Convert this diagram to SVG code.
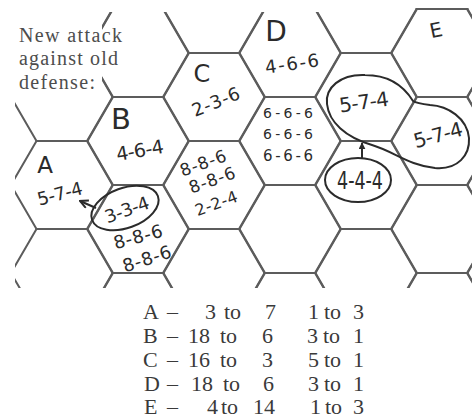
<svg xmlns="http://www.w3.org/2000/svg" width="472" height="418" viewBox="0 0 472 418">
<style>
.grid{fill:none;stroke:#5c5c5c;stroke-width:2}
.hand{font-family:"DejaVu Sans",sans-serif;fill:#2b2b2b;text-anchor:middle}
.ink{fill:none;stroke:#2b2b2b;stroke-width:2}
.print{font-family:"Liberation Serif",serif;fill:#4d4d4d;font-size:20px}
.tbl{font-family:"Liberation Serif",serif;fill:#3a3a3a;font-size:22px}
</style>
<defs>
<polygon id="hex" points="-51,0 -25.5,-44 25.5,-44 51,0 25.5,44 -25.5,44"/>
<clipPath id="mapclip"><polygon points="102,12 400,12 400,8 472,8 472,288 15,288 15,100 102,100"/></clipPath>
<marker id="openhead" viewBox="0 0 10 10" refX="9" refY="5" markerWidth="5" markerHeight="5" orient="auto"><path d="M1,1 L9,5 L1,9" fill="none" stroke="#2b2b2b" stroke-width="2"/></marker>
<marker id="fillhead" viewBox="0 0 10 10" refX="9" refY="5" markerWidth="3.5" markerHeight="3.5" orient="auto"><path d="M0,0 L10,5 L0,10 z" fill="#2b2b2b"/></marker>
</defs>
<rect width="472" height="418" fill="#fff"/>
<g id="grid" class="grid" clip-path="url(#mapclip)">
<use href="#hex" x="62" y="9"/><use href="#hex" x="62" y="97"/><use href="#hex" x="62" y="185"/><use href="#hex" x="62" y="273"/>
<use href="#hex" x="138" y="53"/><use href="#hex" x="138" y="141"/><use href="#hex" x="138" y="229"/><use href="#hex" x="138" y="317"/>
<use href="#hex" x="214" y="9"/><use href="#hex" x="214" y="97"/><use href="#hex" x="214" y="185"/><use href="#hex" x="214" y="273"/>
<use href="#hex" x="290" y="53"/><use href="#hex" x="290" y="141"/><use href="#hex" x="290" y="229"/><use href="#hex" x="290" y="317"/>
<use href="#hex" x="366" y="9"/><use href="#hex" x="366" y="97"/><use href="#hex" x="366" y="185"/><use href="#hex" x="366" y="273"/>
<use href="#hex" x="442" y="53"/><use href="#hex" x="442" y="141"/><use href="#hex" x="442" y="229"/><use href="#hex" x="442" y="317"/>
<use href="#hex" x="518" y="9"/><use href="#hex" x="518" y="97"/><use href="#hex" x="518" y="185"/><use href="#hex" x="518" y="273"/>
</g>
<g id="caption" class="print">
<text x="19" y="42" textLength="103" lengthAdjust="spacing">New attack</text>
<text x="19" y="65" textLength="99" lengthAdjust="spacing">against old</text>
<text x="19" y="89" textLength="76" lengthAdjust="spacing">defense:</text>
</g>
<g id="hex-A" class="hand">
<text x="45" y="173" font-size="23">A</text>
<text x="60" y="200" font-size="18" textLength="46" transform="rotate(-15 60 194)">5-7-4</text>
</g>
<g id="hex-B" class="hand">
<text x="121" y="129" font-size="29">B</text>
<text x="140" y="157" font-size="19" textLength="48" transform="rotate(-10 140 151)">4-6-4</text>
</g>
<g id="hex-B2" class="hand">
<ellipse class="ink" cx="125" cy="208" rx="35" ry="20" transform="rotate(-20 125 208)"/>
<text x="127" y="216" font-size="18" textLength="46" transform="rotate(-20 127 210)">3-3-4</text>
<text x="138" y="243" font-size="18" textLength="50" transform="rotate(-15 138 237)">8-8-6</text>
<text x="147" y="265" font-size="18" textLength="50" transform="rotate(-18 147 259)">8-8-6</text>
</g>
<g id="hex-C" class="hand">
<text x="202" y="82" font-size="24">C</text>
<text x="216" y="108" font-size="18" textLength="50" transform="rotate(-22 216 102)">2-3-6</text>
</g>
<g id="hex-C2" class="hand">
<text x="203" y="169" font-size="17" textLength="48" transform="rotate(-20 203 163)">8-8-6</text>
<text x="212" y="186" font-size="17" textLength="48" transform="rotate(-20 212 180)">8-8-6</text>
<text x="216" y="209" font-size="16" textLength="44" transform="rotate(-20 216 203)">2-2-4</text>
</g>
<g id="hex-D" class="hand">
<text x="276" y="41" font-size="28">D</text>
<text x="292" y="70" font-size="18" textLength="54" transform="rotate(-8 292 64)">4-6-6</text>
</g>
<g id="hex-D2" class="hand">
<text x="288" y="118" font-size="14" textLength="50">6-6-6</text>
<text x="288" y="139" font-size="14" textLength="50">6-6-6</text>
<text x="288" y="161" font-size="15" textLength="50">6-6-6</text>
</g>
<g id="hex-E" class="hand">
<text x="436" y="37" font-size="20" transform="rotate(-12 436 30)">E</text>
<path class="ink" d="M413,101 C405,88 390,75 365,75 C340,74 325,88 327,104 C329,122 345,137 372,145 C395,152 408,165 435,168 C458,170 470,155 469,138 C467,118 448,106 430,105 C422,104 416,103 413,101 Z"/>
<text x="364" y="109" font-size="20" textLength="50" transform="rotate(-8 364 102)">5-7-4</text>
<text x="438" y="142" font-size="20" textLength="50" transform="rotate(-15 438 135)">5-7-4</text>
</g>
<g id="hex-E2" class="hand">
<ellipse class="ink" cx="358" cy="180" rx="33" ry="22"/>
<text x="360" y="189" font-size="25" textLength="46" lengthAdjust="spacingAndGlyphs">4-4-4</text>
</g>
<g id="connectors" class="ink">
<path d="M96,208 L80,201" marker-end="url(#openhead)"/>
<path d="M362,158 L362,143" marker-end="url(#fillhead)"/>
</g>
<g id="table" class="tbl">
<text y="319"><tspan x="143">A</tspan><tspan x="167">–</tspan><tspan x="205">3</tspan><tspan x="224">to</tspan><tspan x="265">7</tspan><tspan x="308">1</tspan><tspan x="324">to</tspan><tspan x="353">3</tspan></text>
<text y="343"><tspan x="143">B</tspan><tspan x="167">–</tspan><tspan x="188">18</tspan><tspan x="220">to</tspan><tspan x="262">6</tspan><tspan x="307">3</tspan><tspan x="323">to</tspan><tspan x="353">1</tspan></text>
<text y="367"><tspan x="143">C</tspan><tspan x="167">–</tspan><tspan x="188">16</tspan><tspan x="220">to</tspan><tspan x="262">3</tspan><tspan x="308">5</tspan><tspan x="324">to</tspan><tspan x="353">1</tspan></text>
<text y="391"><tspan x="144">D</tspan><tspan x="167">–</tspan><tspan x="191">18</tspan><tspan x="223">to</tspan><tspan x="263">6</tspan><tspan x="308">3</tspan><tspan x="324">to</tspan><tspan x="353">1</tspan></text>
<text y="414"><tspan x="144">E</tspan><tspan x="167">–</tspan><tspan x="207">4</tspan><tspan x="221">to</tspan><tspan x="253">14</tspan><tspan x="310">1</tspan><tspan x="325">to</tspan><tspan x="353">3</tspan></text>
</g>
</svg>
